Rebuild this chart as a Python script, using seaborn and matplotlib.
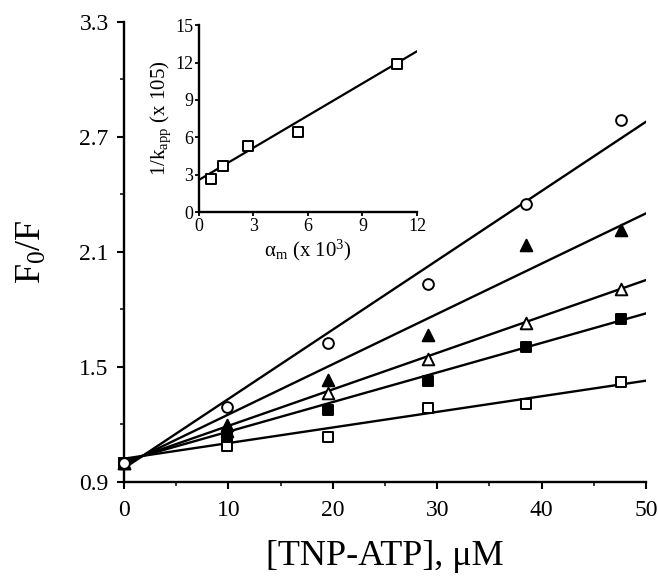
import numpy as np
import pandas as pd
import matplotlib
matplotlib.use("Agg")
import matplotlib.pyplot as plt
import seaborn as sns

# ---- data ----
tnp_atp = [0, 9.9, 19.5, 29.1, 38.5, 47.6]
open_circle = [1.00, 1.288, 1.622, 1.931, 2.347, 2.787]
filled_triangle = [1.00, 1.196, 1.431, 1.665, 2.135, 2.213]
open_triangle = [1.00, 1.165, 1.364, 1.538, 1.726, 1.904]
filled_square = [1.00, 1.135, 1.274, 1.427, 1.601, 1.749]
open_square = [1.00, 1.088, 1.132, 1.283, 1.305, 1.422]

fit_x = [0, 50]
fit_circle = [0.970, 2.778]
fit_filled_triangle = [0.988, 2.300]
fit_open_triangle = [1.001, 1.952]
fit_filled_square = [1.007, 1.778]
fit_open_square = [1.020, 1.427]

main_xticks = [0, 10, 20, 30, 40, 50]
main_yticks = [0.9, 1.5, 2.1, 2.7, 3.3]
main_yticklabels = ["0.9", "1.5", "2.1", "2.7", "3.3"]

inset_alpha = [0.64, 1.34, 2.71, 5.46, 10.9]
inset_inv_k = [2.67, 3.71, 5.33, 6.43, 11.9]
inset_fit_x = [0, 12]
inset_fit_y = [2.6, 12.9]
inset_xticks = [0, 3, 6, 9, 12]
inset_yticks = [0, 3, 6, 9, 12, 15]

# ---- style ----
sns.set_theme(style="ticks")
plt.rcParams["font.family"] = ["Liberation Serif", "DejaVu Serif"]
plt.rcParams["mathtext.fontset"] = "custom"
plt.rcParams["mathtext.rm"] = "Liberation Serif"
plt.rcParams["mathtext.it"] = "Liberation Serif"
plt.rcParams["mathtext.default"] = "regular"

fig = plt.figure(figsize=(6.58, 5.77), dpi=100)
ax = fig.add_axes([0.1884, 0.1652, 0.7933, 0.7972])

# fit lines
fits = [fit_circle, fit_filled_triangle, fit_open_triangle, fit_filled_square, fit_open_square]
for f in fits:
    sns.lineplot(x=fit_x, y=f, ax=ax, color="black", linewidth=1.7, zorder=2)

series = [
    (open_square, "s", "white", 55),
    (open_triangle, "^", "white", 70),
    (filled_square, "s", "black", 55),
    (filled_triangle, "^", "black", 70),
    (open_circle, "o", "white", 60),
]
for vals, mk, fc, s in series:
    sns.scatterplot(x=tnp_atp, y=vals, ax=ax, marker=mk, s=s,
                    facecolor=fc, edgecolor="black", linewidth=1.4, zorder=3,
                    clip_on=False)

ax.set_xlim(0, 50)
ax.set_ylim(0.9, 3.3)
ax.set_xticks(main_xticks)
ax.set_xticks(np.arange(5, 50, 10), minor=True)
ax.set_yticks(main_yticks)
ax.set_yticklabels(main_yticklabels)
ax.set_yticks([1.2, 1.8, 2.4, 3.0], minor=True)
for side in ["top", "right"]:
    ax.spines[side].set_visible(False)
for side in ["left", "bottom"]:
    ax.spines[side].set_linewidth(1.7)
    ax.spines[side].set_color("black")
ax.tick_params(axis="both", which="major", direction="out", length=5, width=1.5,
               labelsize=17, colors="black")
ax.tick_params(axis="both", which="minor", direction="out", length=3, width=1.3)
ax.tick_params(axis="x", which="major", pad=8)
ax.tick_params(axis="y", which="major", pad=6)
ax.set_xlabel("[TNP-ATP], μM", fontsize=26, labelpad=14, color="black")
ax.set_ylabel(r"F$_\mathrm{0}$/F", fontsize=26, labelpad=22, color="black")
ax.set_facecolor("white")
ax.grid(False)

# ---- inset ----
axi = fig.add_axes([0.3024, 0.632, 0.3313, 0.3246])
axi.set_facecolor("none")
sns.lineplot(x=inset_fit_x, y=inset_fit_y, ax=axi, color="black", linewidth=1.6)
sns.scatterplot(x=inset_alpha, y=inset_inv_k, ax=axi, marker="s", s=60,
                facecolor="white", edgecolor="black", linewidth=1.4, zorder=3)
axi.set_xlim(0, 12)
axi.set_ylim(0, 15)
axi.set_xticks(inset_xticks)
axi.set_yticks(inset_yticks)
for side in ["top", "right"]:
    axi.spines[side].set_visible(False)
for side in ["left", "bottom"]:
    axi.spines[side].set_linewidth(1.7)
    axi.spines[side].set_color("black")
axi.tick_params(axis="both", direction="out", length=3, width=1.3, labelsize=13,
                pad=1, colors="black")
axi.set_xlabel(r"α$_m$ (x 10$^3$)", fontsize=15, labelpad=2, color="black")
axi.set_ylabel(r"1/k$_{app}$ (x 105)", fontsize=15, labelpad=2, color="black")
axi.grid(False)

fig.savefig("out.png", dpi=100, facecolor="white")
